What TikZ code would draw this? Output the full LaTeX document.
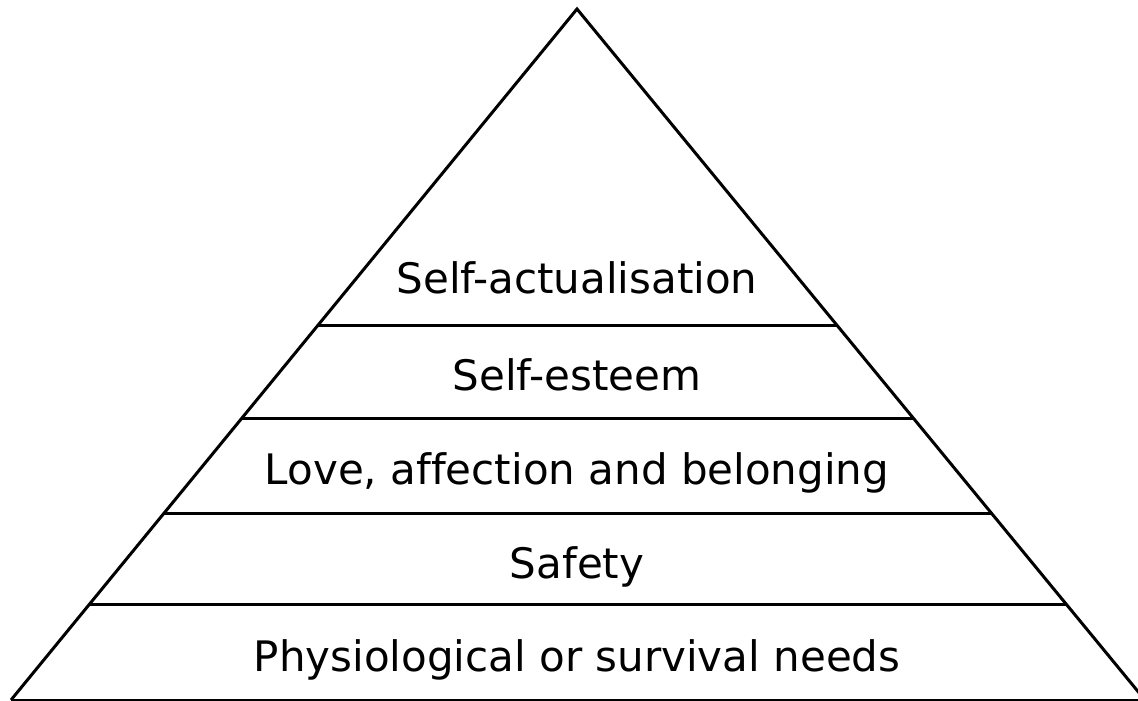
\documentclass[tikz,border=0pt]{standalone}
\usepackage{fontspec}
\setmainfont{DejaVu Sans}[Ligatures=NoCommon]
\usetikzlibrary{calc}
\begin{document}
\begin{tikzpicture}[x=1pt,y=-1pt,line width=3pt,
    nivel/.style={font=\fontsize{42}{50}\selectfont,anchor=base}]
    \useasboundingbox (0,0) rectangle (1138,701);

    % Triangulo
    \coordinate (cima) at (577,9);
    \coordinate (izq) at (11,700);
    \coordinate (der) at (1145,700);
    \draw (izq) -- (cima) -- (der);
    \draw (izq) -- (der);

    % Niveles
    \foreach \t [count=\i] in {0.4573,0.5933,0.7294,0.8625} {
        \coordinate (i\i) at ($(cima)!\t!(izq)$);
        \coordinate (d\i) at ($(cima)!\t!(der)$);
        \draw (i\i) -- (d\i);
    }

    % Textos
    \node[nivel] (autorrealizacion) at (577,293) {Self-actualisation};
    \node[nivel] (estima) at (577,390) {Self-esteem};
    \node[nivel] (afecto) at (577,484) {Love, affection and belonging};
    \node[nivel] (seguridad) at (577,578) {Safety};
    \node[nivel] (fisiologicas) at (577,671) {Physiological or survival needs};
\end{tikzpicture}
\end{document}
